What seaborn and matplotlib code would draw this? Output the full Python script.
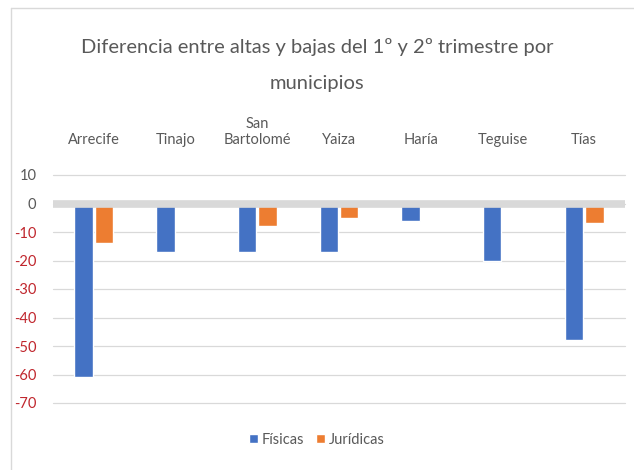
import matplotlib
matplotlib.use("Agg")
import matplotlib.pyplot as plt
from matplotlib.lines import Line2D
import seaborn as sns
import pandas as pd

# data
municipios = ["Arrecife", "Tinajo", "San\nBartolomé", "Yaiza", "Haría", "Teguise", "Tías"]
fisicas = [-61, -17, -17, -17, -6, -20, -48]
juridicas = [-14, 0, -8, -5, 0, 0, -7]
y_ticks = [10, 0, -10, -20, -30, -40, -50, -60, -70]

df = pd.DataFrame({
    "municipio": municipios * 2,
    "tipo": ["Físicas"] * len(municipios) + ["Jurídicas"] * len(municipios),
    "valor": fisicas + juridicas,
})

sns.set_theme(style="white")
plt.rcParams["font.family"] = ["Lato", "DejaVu Sans"]

grey_txt = "#595959"
grid_col = "#d9d9d9"

fig, ax = plt.subplots(figsize=(6.34, 4.70), dpi=100)
ax.set_position([53 / 634, 1 - 403 / 470, (625 - 53) / 634, (403 - 175) / 470])

sns.barplot(data=df, x="municipio", y="valor", hue="tipo", order=municipios,
            hue_order=["Físicas", "Jurídicas"], palette=["#4472C4", "#ED7D31"],
            saturation=1, width=0.5, gap=0.1, errorbar=None, ax=ax, zorder=2)

ax.set_ylim(-70, 10)
ax.set_yticks(y_ticks)
ax.set_yticklabels([str(t) for t in y_ticks], fontsize=10.5)
for lab, t in zip(ax.get_yticklabels(), y_ticks):
    lab.set_color("#C0262D" if t < 0 else grey_txt)
ax.tick_params(axis="y", length=0, pad=12)

ax.xaxis.tick_top()
ax.tick_params(axis="x", length=0, pad=20, labelsize=10.5, labelcolor=grey_txt)
ax.set_xlabel("")
ax.set_ylabel("")

ax.grid(axis="y", color=grid_col, lw=0.9, zorder=0)
ax.set_axisbelow(True)
for gl in ax.get_ygridlines():
    gl.set_clip_on(False)
ax.axhline(0, color="#d9d9d9", lw=5.5, zorder=3)
for s in ax.spines.values():
    s.set_visible(False)

handles, labels = ax.get_legend_handles_labels()
ax.legend(handles, labels, loc="center", bbox_to_anchor=(0.5, 1 - 440 / 470),
          bbox_transform=fig.transFigure, ncol=2, frameon=False, fontsize=10.5,
          handlelength=0.6, handleheight=0.6, handletextpad=0.3, columnspacing=0.8,
          labelcolor=grey_txt)

fig.text(0.5, 1 - 47 / 470, "Diferencia entre altas y bajas del 1º y 2º trimestre por",
         ha="center", va="center", fontsize=14.5, color=grey_txt)
fig.text(0.5, 1 - 83 / 470, "municipios", ha="center", va="center", fontsize=14.5, color=grey_txt)

# light frame of the chart area (top and left edges visible)
fig.add_artist(Line2D([11 / 634, 1], [1 - 8 / 470, 1 - 8 / 470], color=grid_col, lw=1,
                      transform=fig.transFigure))
fig.add_artist(Line2D([11 / 634, 11 / 634], [0, 1 - 8 / 470], color=grid_col, lw=1,
                      transform=fig.transFigure))

fig.savefig("out.png", dpi=100)
